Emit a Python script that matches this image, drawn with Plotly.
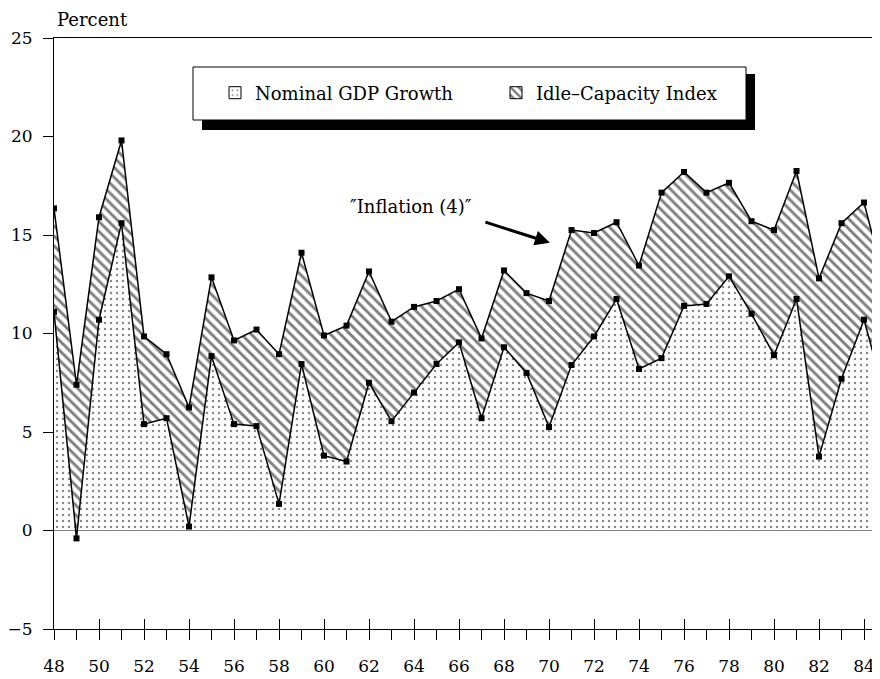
import plotly.graph_objects as go

# ---- data ----
years = list(range(48, 86))
nominal_gdp_growth = [11.1, -0.4, 10.7, 15.6, 5.4, 5.7, 0.2, 8.85, 5.4, 5.3,
                      1.35, 8.45, 3.8, 3.5, 7.5, 5.55, 7.0, 8.45, 9.55, 5.7,
                      9.3, 8.0, 5.25, 8.4, 9.85, 11.75, 8.2, 8.75, 11.4, 11.5,
                      12.9, 11.0, 8.9, 11.75, 3.75, 7.7, 10.7, 6.5]
inflation_4 = [16.35, 7.4, 15.9, 19.8, 9.85, 8.95, 6.25, 12.85, 9.65, 10.2,
               8.95, 14.1, 9.9, 10.4, 13.15, 10.6, 11.35, 11.65, 12.25, 9.75,
               13.2, 12.05, 11.65, 15.25, 15.1, 15.65, 13.45, 17.15, 18.2, 17.15,
               17.65, 15.7, 15.25, 18.25, 12.8, 15.6, 16.65, 12.2]
x_tickvals = list(range(48, 86, 2))
x_ticktext = [str(v) for v in x_tickvals]
y_tickvals = [-5, 0, 5, 10, 15, 20, 25]
y_ticktext = ["\u22125", "0", "5", "10", "15", "20", "25"]
legend_names = ["Nominal GDP Growth", "Idle\u2013Capacity Index"]
annotation_text = "\u2033Inflation (4)\u2033"

FONT = "DejaVu Serif"
dots = dict(shape=".", size=6, solidity=0.14, fgcolor="#111111", bgcolor="white", fillmode="overlay")
hatch = dict(shape="\\", size=7, solidity=0.42, fgcolor="black", bgcolor="white", fillmode="overlay")

fig = go.Figure()

fig.add_trace(go.Scatter(
    x=years, y=nominal_gdp_growth, mode="lines+markers", fill="tozeroy",
    fillpattern=dots, fillcolor="white",
    line=dict(color="black", width=1.5),
    marker=dict(symbol="square", size=6, color="black"),
    showlegend=False, name=legend_names[0]))

fig.add_trace(go.Scatter(
    x=years, y=inflation_4, mode="lines+markers", fill="tonexty",
    fillpattern=hatch, fillcolor="white",
    line=dict(color="black", width=1.5),
    marker=dict(symbol="square", size=6, color="black"),
    showlegend=False, name="Inflation (4)"))

# legend swatches
fig.add_trace(go.Bar(x=[None], y=[None], name=legend_names[0],
                     marker=dict(color="white", pattern=dots, line=dict(color="black", width=1))))
fig.add_trace(go.Bar(x=[None], y=[None], name=legend_names[1],
                     marker=dict(color="white", pattern=hatch, line=dict(color="black", width=1))))

# helper trace for the upper halves of the major x ticks
fig.add_trace(go.Scatter(x=[None], y=[None], xaxis="x2", showlegend=False, hoverinfo="skip"))

# page has an 8px body margin; figure sized so the picture fills the 880x679 window
OFF = 8
W, H = 880 - OFF, 679 - OFF
L, R, T, B = 54 - OFF, 0, 38 - OFF, 50
pw, ph = W - L - R, H - T - B

def px_to_paper(px, py):
    # px, py are page pixels in the reference picture
    return (px - OFF - L) / pw, (H - B - (py - OFF)) / ph

sx0, sy0 = px_to_paper(202, 130)
sx1, sy1 = px_to_paper(755, 74)
bx0, by0 = px_to_paper(193, 120)
bx1, by1 = px_to_paper(746, 67)
lgx, lgy = px_to_paper(215, 93)
pcx, pcy = px_to_paper(55, 20)

fig.update_layout(
    width=W, height=H,
    margin=dict(l=L, r=R, t=T, b=B, pad=0),
    paper_bgcolor="white", plot_bgcolor="white",
    font=dict(family=FONT, size=18, color="black"),
    showlegend=True,
    legend=dict(orientation="h", x=lgx, y=lgy, xanchor="left", yanchor="middle",
                traceorder="normal",
                bgcolor="rgba(0,0,0,0)", borderwidth=0, entrywidth=236,
                font=dict(family=FONT, size=18, color="black")),
    xaxis=dict(range=[48, 84.71], tickmode="array", tickvals=x_tickvals, ticktext=x_ticktext,
               ticks="outside", ticklen=10, tickwidth=1, tickcolor="black",
               minor=dict(dtick=1, tick0=48, ticks="outside", ticklen=10, tickwidth=1, tickcolor="black"),
               showline=True, linecolor="black", linewidth=1, mirror=True,
               showgrid=False, zeroline=False, ticklabelstandoff=12,
               tickfont=dict(family=FONT, size=17, color="black")),
    xaxis2=dict(range=[48, 84.71], overlaying="x", anchor="y", side="bottom",
                tickmode="array", tickvals=x_tickvals, ticks="inside", ticklen=10,
                tickwidth=1, tickcolor="black", showticklabels=False,
                showline=False, showgrid=False, zeroline=False),
    yaxis=dict(range=[-5, 25], tickmode="array", tickvals=y_tickvals, ticktext=y_ticktext,
               ticks="outside", ticklen=10, tickwidth=1, tickcolor="black",
               showline=True, linecolor="black", linewidth=1,
               showgrid=False, zeroline=True, zerolinecolor="black", zerolinewidth=1,
               ticklabelstandoff=7,
               tickfont=dict(family=FONT, size=17, color="black")),
    shapes=[
        dict(type="rect", xref="paper", yref="paper", x0=sx0, y0=sy0, x1=sx1, y1=sy1,
             fillcolor="black", line=dict(width=0), layer="above"),
        dict(type="rect", xref="paper", yref="paper", x0=bx0, y0=by0, x1=bx1, y1=by1,
             fillcolor="white", line=dict(color="black", width=1), layer="above"),
    ],
    annotations=[
        dict(text="Percent", xref="paper", yref="paper", x=pcx, y=pcy,
             xanchor="left", yanchor="middle", showarrow=False,
             font=dict(family=FONT, size=18, color="black")),
        dict(text=annotation_text, xref="x", yref="y", x=63.87, y=16.44,
             xanchor="center", yanchor="middle", showarrow=False,
             font=dict(family=FONT, size=18, color="black")),
        dict(text="", xref="x", yref="y", x=70.04, y=14.61, ax=-66, ay=-21,
             showarrow=True, arrowhead=2, arrowsize=1, arrowwidth=3, arrowcolor="black"),
    ],
)

fig.write_html("out.html")
